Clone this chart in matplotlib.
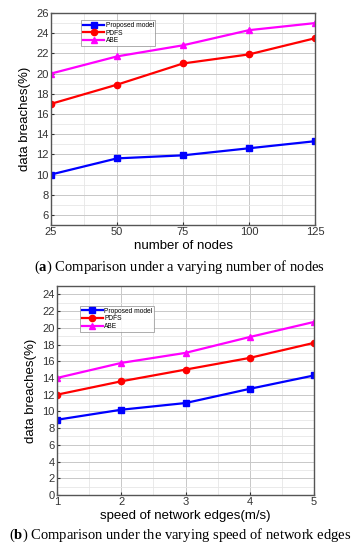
import matplotlib
matplotlib.use("Agg")
import matplotlib.pyplot as plt
from matplotlib.ticker import MultipleLocator

plt.rcParams['font.family'] = ['Liberation Sans', 'DejaVu Sans']
plt.rcParams['mathtext.fontset'] = 'custom'
plt.rcParams['mathtext.bf'] = 'Liberation Serif:bold'
plt.rcParams['mathtext.rm'] = 'Liberation Serif'

# (a) varying number of nodes
nodes = [25, 50, 75, 100, 125]
nodes_proposed = [10.0, 11.6, 11.9, 12.6, 13.3]
nodes_pdfs = [17.0, 18.9, 21.0, 21.9, 23.5]
nodes_abe = [20.0, 21.7, 22.8, 24.3, 25.0]

# (b) varying speed of network edges
speeds = [1, 2, 3, 4, 5]
speed_proposed = [9.0, 10.2, 11.0, 12.7, 14.3]
speed_pdfs = [12.0, 13.6, 15.0, 16.4, 18.2]
speed_abe = [14.0, 15.8, 17.0, 18.9, 20.7]

series_names = ['Proposed model', 'PDFS', 'ABE']
colors = ['#0000ff', '#ff0000', '#ff00ff']
markers = ['s', 'o', '^']

W, H = 360, 550
fig = plt.figure(figsize=(W / 100, H / 100), dpi=100)


def px_axes(left, top, right, bottom):
    return fig.add_axes([left / W, 1 - bottom / H, (right - left) / W, (bottom - top) / H])


def style(ax, xs, ylim, ymajor, xminor, xlabel, legend_anchor):
    ax.set_xlim(xs[0], xs[-1])
    ax.set_ylim(*ylim)
    ax.set_xticks(xs)
    ax.yaxis.set_major_locator(MultipleLocator(ymajor))
    ax.yaxis.set_minor_locator(MultipleLocator(1))
    ax.xaxis.set_minor_locator(MultipleLocator(xminor))
    ax.grid(which='major', color='#c8c8c8', lw=0.7)
    ax.grid(which='minor', color='#e6e6e6', lw=0.6)
    ax.set_axisbelow(True)
    ax.tick_params(which='both', direction='in', length=2, labelsize=8, pad=1.5, colors='#333333')
    ax.tick_params(which='minor', length=0)
    for s in ax.spines.values():
        s.set_color('#555555')
        s.set_linewidth(1.0)
    ax.set_xlabel(xlabel, fontsize=9.5, labelpad=2)
    ax.set_ylabel('data breaches(%)', fontsize=9.5, labelpad=4)
    leg = ax.legend(loc='upper left', bbox_to_anchor=legend_anchor, fontsize=4.8,
                    frameon=True, fancybox=False, edgecolor='#888888',
                    handlelength=3.2, handletextpad=0.2, borderpad=0.25,
                    labelspacing=0.1, borderaxespad=0)
    leg.get_frame().set_linewidth(0.6)


ax1 = px_axes(51, 13, 315, 225)
for ys, name, c, m in zip([nodes_proposed, nodes_pdfs, nodes_abe], series_names, colors, markers):
    ax1.plot(nodes, ys, color=c, marker=m, ms=4.5, lw=1.6, label=name)
style(ax1, nodes, (5, 26), 2, 12.5, 'number of nodes', (0.115, 0.965))

ax2 = px_axes(57, 286, 314, 495)
for ys, name, c, m in zip([speed_proposed, speed_pdfs, speed_abe], series_names, colors, markers):
    ax2.plot(speeds, ys, color=c, marker=m, ms=4.5, lw=1.6, label=name)
style(ax2, speeds, (0, 25), 2, 0.5, 'speed of network edges(m/s)', (0.09, 0.905))

fig.text(0.5, 1 - 267 / H, r'($\mathbf{a}$) Comparison under a varying number of nodes',
         ha='center', va='center', fontsize=10.5, family='Liberation Serif')
fig.text(0.5, 1 - 535 / H, r'($\mathbf{b}$) Comparison under the varying speed of network edges',
         ha='center', va='center', fontsize=10.5, family='Liberation Serif')

fig.savefig('out.png', dpi=100)
